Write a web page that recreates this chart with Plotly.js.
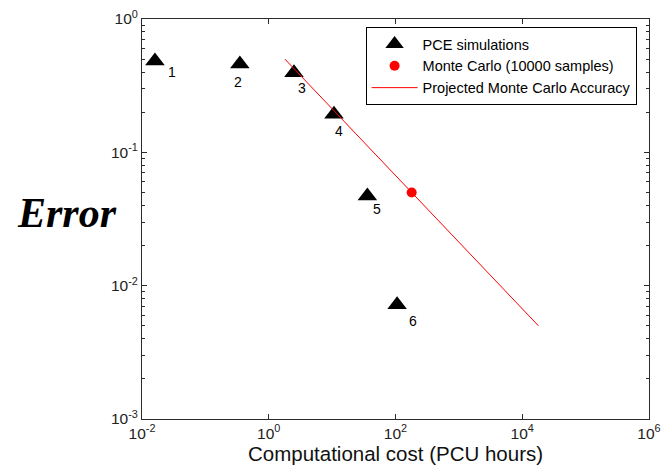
<!DOCTYPE html>
<html>
<head>
<meta charset="utf-8">
<script src="https://cdn.plot.ly/plotly-3.0.1.min.js"></script>
<style>
  html, body { margin: 0; padding: 0; background: #fff; }
  #chart { width: 664px; height: 467px; }
</style>
</head>
<body>
<div id="chart"></div>
<script>
// PCE runs: cost in PCU hours and resulting error
const pceLabels = ["1", "2", "3", "4", "5", "6"];
const pceCost = [0.016, 0.35, 2.5, 10.7, 36, 106];
const pceError = [0.484, 0.46, 0.395, 0.193, 0.047, 0.0072];

// Monte Carlo reference run (10000 samples)
const mcCost = [180];
const mcError = [0.05];

// Projected Monte Carlo accuracy (error ~ 1/sqrt(cost))
const projCost = [1.8, 18000];
const projError = [0.5, 0.005];

// axis ticks
const xTickVals = [0.01, 1, 100, 10000, 1000000];
const xTickText = ["10<sup>-2</sup>", "10<sup>0</sup>", "10<sup>2</sup>", "10<sup>4</sup>", "10<sup>6</sup>"];
const yTickVals = [0.001, 0.01, 0.1, 1];
const yTickText = ["10<sup>-3</sup>", "10<sup>-2</sup>", "10<sup>-1</sup>", "10<sup>0</sup>"];

// label offsets (px) for the run numbers
const labelShift = [[17, -11], [-2, -18], [8, -15], [5, -17], [10, -13], [16, -16]];

const traces = [
  {
    x: pceCost, y: pceError, type: "scatter", mode: "markers",
    name: "PCE simulations",
    marker: { symbol: "triangle-up", size: 17, color: "#000" }
  },
  {
    x: mcCost, y: mcError, type: "scatter", mode: "markers",
    name: "Monte Carlo (10000 samples)",
    marker: { symbol: "circle", size: 10, color: "#ff0000" }
  },
  {
    x: projCost, y: projError, type: "scatter", mode: "lines",
    name: "Projected Monte Carlo Accuracy",
    line: { color: "#ff0000", width: 1 }
  }
];

const annotations = pceLabels.map((t, i) => ({
  x: Math.log10(pceCost[i]), y: Math.log10(pceError[i]),
  xref: "x", yref: "y", text: t, showarrow: false,
  xshift: labelShift[i][0], yshift: labelShift[i][1],
  font: { family: "Liberation Sans, Arial, sans-serif", size: 14, color: "#000" }
}));

const axisCommon = {
  type: "log", showgrid: false, zeroline: false,
  showline: true, linecolor: "#2a2a2a", linewidth: 1,
  mirror: "allticks", ticks: "inside", ticklen: 5, tickcolor: "#2a2a2a",
  tickmode: "array",
  tickfont: { family: "Liberation Sans, Arial, sans-serif", size: 15.5, color: "#222" }
};

const layout = {
  width: 664, height: 467,
  margin: { l: 142, r: 15, t: 19, b: 48 },
  paper_bgcolor: "#fff", plot_bgcolor: "#fff",
  showlegend: true,
  xaxis: Object.assign({}, axisCommon, {
    range: [-2, 6], tickvals: xTickVals, ticktext: xTickText,
    title: { text: "Computational cost (PCU hours)", standoff: 6,
             font: { family: "Liberation Sans, Arial, sans-serif", size: 20.5, color: "#111" } }
  }),
  yaxis: Object.assign({}, axisCommon, {
    range: [-3, 0], tickvals: yTickVals, ticktext: yTickText,
    minor: { ticks: "inside", ticklen: 3, tickcolor: "#2a2a2a", dtick: "D1", showgrid: false }
  }),
  legend: {
    x: 0.441, y: 0.98, xanchor: "left", yanchor: "top",
    bgcolor: "#fff", bordercolor: "#000", borderwidth: 1,
    font: { family: "Liberation Sans, Arial, sans-serif", size: 14.5, color: "#000" },
    tracegroupgap: 0, itemwidth: 46
  },
  annotations: annotations.concat([{
    text: "<b><i>Error</i></b>", xref: "paper", yref: "paper",
    x: -0.045, y: 0.515, xanchor: "right", yanchor: "middle", showarrow: false,
    font: { family: "Liberation Serif, Times New Roman, serif", size: 42, color: "#000" }
  }])
};

Plotly.newPlot("chart", traces, layout, { displayModeBar: false, staticPlot: true });
</script>
</body>
</html>
